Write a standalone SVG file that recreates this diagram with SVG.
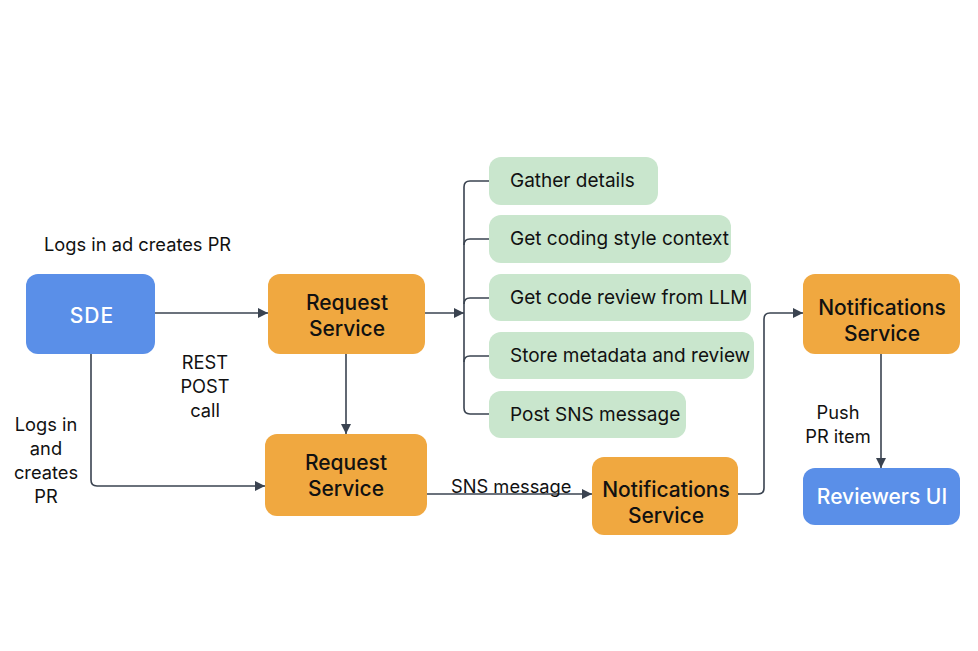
<svg xmlns="http://www.w3.org/2000/svg" width="978" height="651" viewBox="0 0 978 651">
<defs>
<marker id="ah" viewBox="0 0 10 10" refX="10" refY="5" markerWidth="10" markerHeight="10" markerUnits="userSpaceOnUse" orient="auto">
<path d="M0,0 L10,5 L0,10 z" fill="#3a4350"/>
</marker>
<style>
.orange{fill:#F0A840;}
.blue{fill:#5A8FE8;}
.green{fill:#C9E6CD;}
.t{font-family:"Inter","Liberation Sans",sans-serif;fill:#111;}
.nt{font-size:21px;font-weight:500;text-anchor:middle;}
.gt{font-size:19px;}
.lb{font-size:18.3px;}
.wt{fill:#fff;}
.ln{fill:none;stroke:#3a4350;stroke-width:1.6;}
</style>
</defs>
<rect width="978" height="651" fill="#fff"/>
<g id="connectors">
<path class="ln" d="M155,313 H268" marker-end="url(#ah)"/>
<path class="ln" d="M346,354 V434" marker-end="url(#ah)"/>
<path class="ln" d="M91,354 V480 Q91,486 97,486 H265" marker-end="url(#ah)"/>
<path class="ln" d="M425,313 H464" marker-end="url(#ah)"/>
<path class="ln" d="M489,181 H470 Q464,181 464,187 V408 Q464,414 470,414 H489"/>
<path class="ln" d="M464,245 Q464,239 470,239 H489"/>
<path class="ln" d="M464,304 Q464,298 470,298 H489"/>
<path class="ln" d="M464,362 Q464,356 470,356 H489"/>
<path class="ln" d="M427,494 H592" marker-end="url(#ah)"/>
<path class="ln" d="M738,494 H758 Q764,494 764,488 V319 Q764,313 770,313 H803" marker-end="url(#ah)"/>
<path class="ln" d="M881,354 V468" marker-end="url(#ah)"/>
</g>
<g id="labels">
<text class="t lb" x="44" y="251">Logs in ad creates PR</text>
<text class="t lb" text-anchor="middle" x="205" y="369">REST</text>
<text class="t lb" text-anchor="middle" x="205" y="393">POST</text>
<text class="t lb" text-anchor="middle" x="205" y="417">call</text>
<text class="t lb" text-anchor="middle" x="46" y="431">Logs in</text>
<text class="t lb" text-anchor="middle" x="46" y="455">and</text>
<text class="t lb" text-anchor="middle" x="46" y="479">creates</text>
<text class="t lb" text-anchor="middle" x="46" y="503">PR</text>
<text class="t lb" x="451" y="493">SNS message</text>
<text class="t lb" text-anchor="middle" x="838" y="419">Push</text>
<text class="t lb" text-anchor="middle" x="838" y="443">PR item</text>
</g>
<g id="sde">
<rect class="blue" x="26" y="274" width="129" height="80" rx="12"/>
<text class="t nt wt" x="92" y="323" letter-spacing="1">SDE</text>
</g>
<g id="request-service-1">
<rect class="orange" x="268" y="274" width="157" height="80" rx="12"/>
<text class="t nt" x="347" y="310">Request</text>
<text class="t nt" x="347" y="336">Service</text>
</g>
<g id="request-service-2">
<rect class="orange" x="265" y="434" width="162" height="82" rx="12"/>
<text class="t nt" x="346" y="470">Request</text>
<text class="t nt" x="346" y="496">Service</text>
</g>
<g id="notifications-service-1">
<rect class="orange" x="592" y="457" width="146" height="78" rx="12"/>
<text class="t nt" x="666" y="497">Notifications</text>
<text class="t nt" x="666" y="523">Service</text>
</g>
<g id="notifications-service-2">
<rect class="orange" x="803" y="274" width="157" height="80" rx="12"/>
<text class="t nt" x="882" y="315">Notifications</text>
<text class="t nt" x="882" y="341">Service</text>
</g>
<g id="reviewers-ui">
<rect class="blue" x="803" y="468" width="157" height="57" rx="12"/>
<text class="t nt wt" x="882" y="504">Reviewers UI</text>
</g>
<g id="gather-details">
<rect class="green" x="489" y="157" width="169" height="48" rx="12"/>
<text class="t gt" x="510" y="187">Gather details</text>
</g>
<g id="coding-style">
<rect class="green" x="489" y="215" width="242" height="48" rx="12"/>
<text class="t gt" x="510" y="245">Get coding style context</text>
</g>
<g id="code-review">
<rect class="green" x="489" y="274" width="262" height="47" rx="12"/>
<text class="t gt" x="510" y="304">Get code review from LLM</text>
</g>
<g id="store-metadata">
<rect class="green" x="489" y="332" width="265" height="47" rx="12"/>
<text class="t gt" x="510" y="362">Store metadata and review</text>
</g>
<g id="post-sns">
<rect class="green" x="489" y="391" width="197" height="47" rx="12"/>
<text class="t gt" x="510" y="421">Post SNS message</text>
</g>
</svg>
